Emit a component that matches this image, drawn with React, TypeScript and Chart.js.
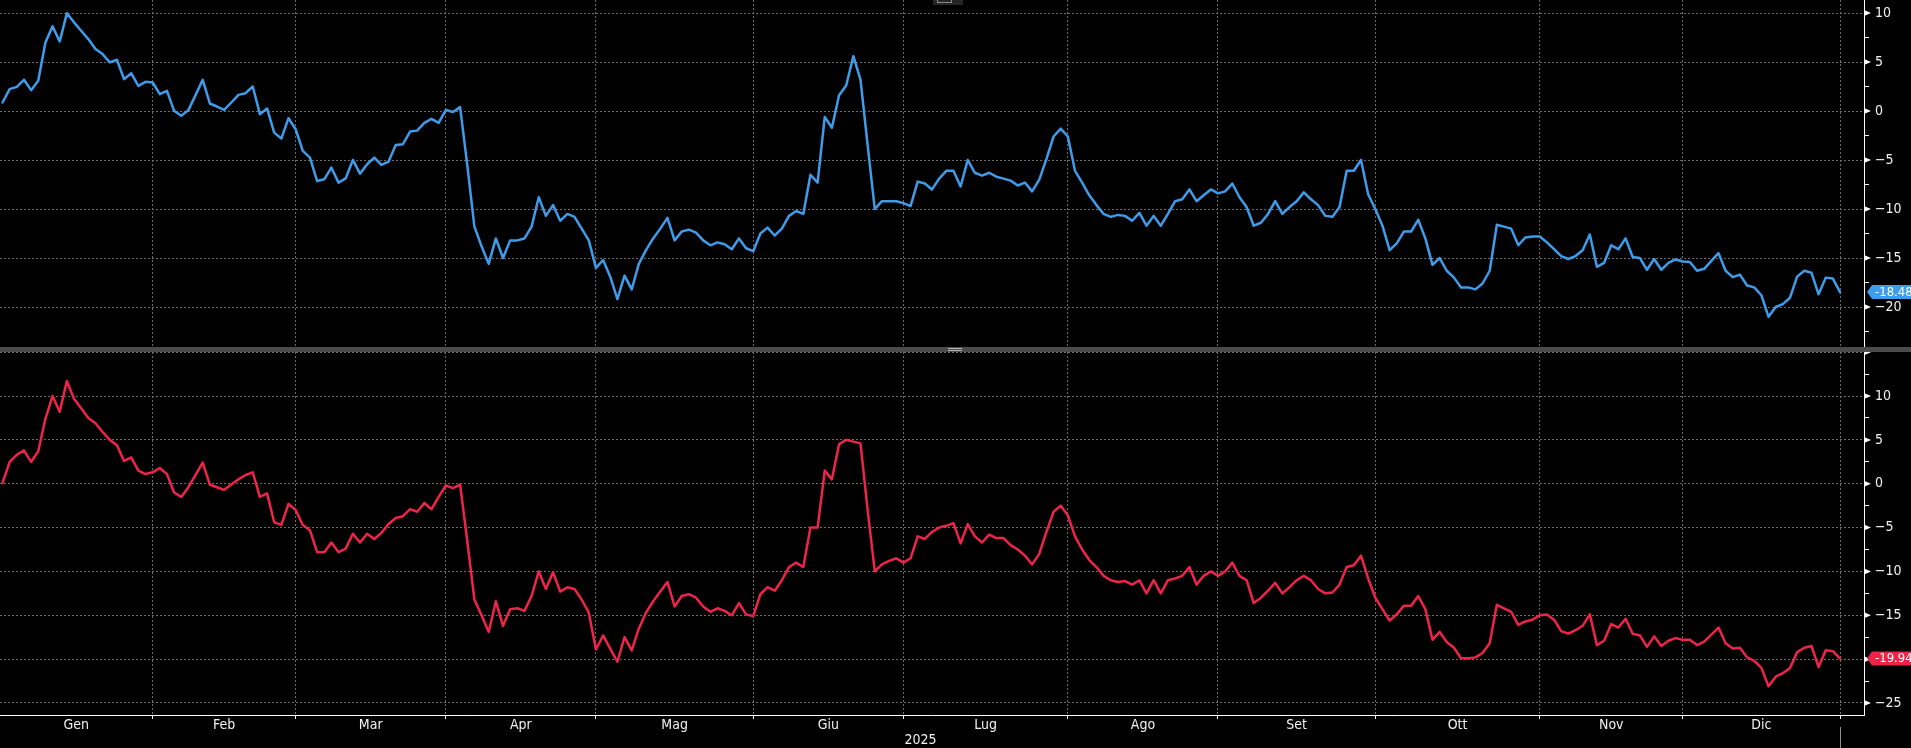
import React, { useEffect, useRef } from 'react';
import { Chart, registerables } from 'chart.js';

Chart.register(...registerables);

// ---------- data ----------
const MONTH_LABELS = ['Gen', 'Feb', 'Mar', 'Apr', 'Mag', 'Giu', 'Lug', 'Ago', 'Set', 'Ott', 'Nov', 'Dic'];
// trading-day index of the last session of each month (grid lines)
const MONTH_END_INDEX = [21, 41, 62, 83, 105, 126, 149, 170, 192, 215, 235, 257];
const YEAR_LABEL = '2025';

const TOP_SERIES = [
  0.87, 2.23, 2.47, 3.19, 2.13, 3.08, 7.0, 8.64, 7.1, 9.97,
  9.05, 8.19, 7.34, 6.32, 5.81, 4.96, 5.23, 3.25, 3.87, 2.57,
  2.98, 2.91, 1.72, 2.06, 0.02, -0.49, 0.09, 1.62, 3.19, 0.77,
  0.46, 0.12, 0.87, 1.65, 1.82, 2.5, -0.32, 0.26, -2.2, -2.81,
  -0.73, -1.86, -4.07, -4.75, -7.14, -6.97, -5.78, -7.31, -6.87, -4.99,
  -6.39, -5.43, -4.75, -5.5, -5.16, -3.46, -3.39, -2.1, -2.0, -1.2,
  -0.8, -1.2, 0.1, -0.1, 0.4, -5.5, -11.8, -13.8, -15.6, -13.0,
  -15.0, -13.2, -13.2, -13.0, -11.8, -8.8, -10.7, -9.6, -11.2, -10.5,
  -10.8, -12.0, -13.2, -16.0, -15.2, -16.9, -19.2, -16.8, -18.2, -15.6,
  -14.2, -13.0, -12.0, -10.9, -13.2, -12.3, -12.1, -12.4, -13.2, -13.7,
  -13.4, -13.6, -14.1, -13.0, -14.0, -14.3, -12.5, -11.9, -12.7, -12.0,
  -10.7, -10.2, -10.5, -6.5, -7.3, -0.6, -1.7, 1.6, 2.6, 5.6,
  3.2, -3.5, -10.0, -9.2, -9.2, -9.2, -9.4, -9.7, -7.2, -7.4,
  -8.0, -6.9, -6.1, -6.1, -7.7, -5.0, -6.3, -6.6, -6.3, -6.7,
  -6.9, -7.1, -7.6, -7.3, -8.2, -7.0, -4.9, -2.6, -1.8, -2.6,
  -6.1, -7.3, -8.6, -9.6, -10.5, -10.8, -10.6, -10.7, -11.2, -10.4,
  -11.7, -10.7, -11.7, -10.5, -9.2, -9.0, -8.0, -9.2, -8.6, -8.0,
  -8.4, -8.2, -7.4, -8.8, -9.8, -11.7, -11.4, -10.5, -9.2, -10.5,
  -9.8, -9.2, -8.3, -9.0, -9.6, -10.7, -10.8, -9.8, -6.1, -6.1,
  -5.0, -8.5, -10.0, -11.7, -14.2, -13.5, -12.3, -12.3, -11.1, -13.0,
  -15.7, -15.0, -16.3, -17.0, -18.0, -18.0, -18.2, -17.6, -16.3, -11.6,
  -11.8, -12.0, -13.7, -12.9, -12.8, -12.8, -13.4, -14.1, -14.8, -15.1,
  -14.8, -14.2, -12.6, -15.9, -15.5, -13.7, -14.1, -13.0, -14.9, -15.0,
  -16.2, -15.1, -16.2, -15.5, -15.15, -15.35, -15.4, -16.3, -16.1, -15.3,
  -14.5, -16.3, -16.95, -16.7, -17.8, -18.0, -18.8, -21.0, -20.0, -19.7,
  -19.05, -16.9, -16.3, -16.5, -18.7, -17.0, -17.1, -18.48,
];

const BOTTOM_SERIES = [
  0.1, 2.5, 3.3, 3.8, 2.5, 3.7, 7.4, 10.0, 8.2, 11.7,
  9.7, 8.6, 7.5, 6.9, 5.9, 5.0, 4.4, 2.6, 3.0, 1.5,
  1.1, 1.3, 1.8, 1.1, -1.0, -1.5, -0.4, 1.0, 2.4, -0.1,
  -0.4, -0.7, -0.1, 0.5, 1.0, 1.3, -1.5, -1.1, -4.4, -4.7,
  -2.3, -3.0, -4.7, -5.3, -7.8, -7.8, -6.7, -7.8, -7.4, -5.7,
  -6.7, -5.7, -6.3, -5.6, -4.6, -3.9, -3.7, -2.9, -3.2, -2.2,
  -2.9, -1.5, -0.2, -0.5, -0.1, -6.5, -13.2, -15.0, -16.9, -13.4,
  -16.2, -14.3, -14.2, -14.5, -12.8, -10.0, -12.0, -10.1, -12.3, -11.8,
  -12.0, -13.2, -14.7, -18.9, -17.3, -18.8, -20.3, -17.5, -19.0, -16.5,
  -14.7, -13.4, -12.3, -11.2, -14.0, -12.8, -12.6, -13.0, -14.0, -14.6,
  -14.2, -14.5, -15.0, -13.6, -14.9, -15.1, -12.6, -11.8, -12.2, -11.0,
  -9.5, -9.0, -9.5, -5.0, -5.0, 1.5, 0.5, 4.5, 5.0, 4.8,
  4.6, -3.0, -10.0, -9.2, -8.8, -8.5, -9.0, -8.5, -6.0, -6.3,
  -5.5, -5.0, -4.8, -4.5, -6.8, -4.6, -6.0, -6.7, -5.8, -6.2,
  -6.2, -7.0, -7.5, -8.2, -9.2, -8.0, -5.5, -3.2, -2.5, -3.6,
  -6.0, -7.5, -8.7, -9.5, -10.5, -11.0, -11.2, -11.1, -11.5, -11.0,
  -12.5, -11.0, -12.5, -11.0, -10.8, -10.5, -9.5, -11.5, -10.5, -10.0,
  -10.5, -10.0, -9.0, -10.5, -11.0, -13.6, -13.0, -12.2, -11.3, -12.5,
  -11.8, -11.0, -10.5, -11.0, -12.0, -12.5, -12.4, -11.5, -9.5, -9.3,
  -8.2, -10.8, -13.0, -14.3, -15.6, -14.9, -13.9, -13.9, -12.8, -14.3,
  -17.8, -16.9, -18.05, -18.7, -19.9, -19.9, -19.8, -19.3, -18.2, -13.8,
  -14.2, -14.6, -16.1, -15.7, -15.5, -15.0, -14.9, -15.5, -16.8, -17.1,
  -16.7, -16.2, -14.9, -18.4, -17.9, -16.0, -16.4, -15.4, -17.1, -17.3,
  -18.6, -17.4, -18.5, -17.9, -17.6, -17.8, -17.8, -18.4, -18.0, -17.2,
  -16.4, -18.2, -18.8, -18.7, -19.8, -20.2, -21.0, -23.1, -22.0, -21.6,
  -21.0, -19.2, -18.7, -18.5, -20.9, -19.0, -19.1, -19.94,
];

const TOP_TICKS = [10, 7.5, 5, 2.5, 0, -2.5, -5, -7.5, -10, -12.5, -15, -17.5, -20, -22.5];
const BOTTOM_TICKS = [15, 12.5, 10, 7.5, 5, 2.5, 0, -2.5, -5, -7.5, -10, -12.5, -15, -17.5, -20, -22.5, -25];

// ---------- style ----------
const BLUE = '#3f9cea';
const RED = '#ee2449';
const GRID = '#6c6c6c';
const TEXT = '#f2f2f2';
const FONT = "'Liberation Sans Narrow', 'Arial Narrow', 'DejaVu Sans Condensed', 'Liberation Sans', sans-serif";
const X_MIN = -0.35;
const X_MAX = 260.35;
const AXIS_W = 47;

Chart.defaults.font.family = FONT;

const isMajor = (v: number) => Math.abs(v % 5) < 1e-6;
const monthMids = MONTH_END_INDEX.map((e, i) => ((i === 0 ? X_MIN : MONTH_END_INDEX[i - 1]) + e) / 2);
const isEnd = (v: number) => MONTH_END_INDEX.some((e) => Math.abs(e - v) < 1e-6);
const fmt = (s: string) => s.replace('-', '\u2212');

function makeAxisPlugin(color: string, series: number[], extra?: (chart: any) => void) {
  return {
    id: 'axisDecor',
    afterDraw(chart: any) {
      const ctx = chart.ctx;
      const y = chart.scales.y;
      const ax = chart.chartArea.right;
      ctx.save();
      // major tick triangles
      ctx.fillStyle = '#ffffff';
      y.ticks.forEach((t: any) => {
        if (!isMajor(t.value)) return;
        const py = y.getPixelForValue(t.value);
        ctx.beginPath();
        ctx.moveTo(ax, py - 3);
        ctx.lineTo(ax + 7, py);
        ctx.lineTo(ax, py + 3);
        ctx.closePath();
        ctx.fill();
      });
      // last value tag
      const last = series[series.length - 1];
      const py = y.getPixelForValue(last);
      const w = chart.width;
      ctx.fillStyle = color;
      ctx.beginPath();
      ctx.moveTo(ax + 3, py);
      ctx.lineTo(ax + 8, py - 7);
      ctx.lineTo(w, py - 7);
      ctx.lineTo(w, py + 7);
      ctx.lineTo(ax + 8, py + 7);
      ctx.closePath();
      ctx.fill();
      ctx.fillStyle = '#ffffff';
      ctx.font = `13px ${FONT}`;
      ctx.textAlign = 'left';
      ctx.textBaseline = 'middle';
      ctx.fillText(last.toFixed(2), ax + 11, py + 0.5);
      if (extra) extra(chart);
      ctx.restore();
    },
  };
}

function yScale(ticks: number[], min: number, max: number, hideTop: boolean) {
  return {
    position: 'right',
    min,
    max,
    afterBuildTicks: (s: any) => {
      s.ticks = ticks.map((v) => ({ value: v }));
    },
    ticks: {
      autoSkip: false,
      color: TEXT,
      font: { size: 14, family: FONT },
      padding: 6,
      callback: (v: number) => (isMajor(v) && !(hideTop && v === ticks[0]) ? fmt(String(v)) : ''),
    },
    grid: {
      color: (c: any) => (c.tick && isMajor(c.tick.value) ? GRID : 'rgba(0,0,0,0)'),
      lineWidth: 1,
      tickLength: 5,
      tickColor: (c: any) => (c.tick && isMajor(c.tick.value) ? 'rgba(0,0,0,0)' : '#ffffff'),
      tickWidth: 1,
    },
    border: { display: true, color: '#ffffff', width: 1, dash: [2, 2] },
    afterFit: (s: any) => {
      s.width = AXIS_W;
      s.paddingTop = 0;
      s.paddingBottom = 0;
    },
  };
}

export default function App() {
  const topRef = useRef<HTMLCanvasElement>(null);
  const botRef = useRef<HTMLCanvasElement>(null);

  useEffect(() => {
    document.body.style.margin = '0';
    document.body.style.background = '#000';

    const common = {
      animation: false,
      responsive: false,
      maintainAspectRatio: false,
      devicePixelRatio: 1,
      layout: { padding: 0 },
      events: [],
      plugins: { legend: { display: false }, tooltip: { enabled: false } },
      elements: { point: { radius: 0 }, line: { tension: 0 } },
    };

    const top = new Chart(topRef.current as HTMLCanvasElement, {
      type: 'line',
      data: {
        datasets: [
          {
            data: TOP_SERIES.map((v, i) => ({ x: i, y: v })),
            borderColor: BLUE,
            borderWidth: 2.5,
            borderJoinStyle: 'round',
            borderCapStyle: 'round',
            pointRadius: 0,
          },
        ],
      },
      options: {
        ...common,
        scales: {
          x: {
            type: 'linear',
            min: X_MIN,
            max: X_MAX,
            afterBuildTicks: (s: any) => {
              s.ticks = MONTH_END_INDEX.map((v) => ({ value: v }));
            },
            ticks: { display: false, autoSkip: false },
            grid: { color: GRID, drawTicks: false, lineWidth: 1 },
            border: { display: false, dash: [2, 2] },
            afterFit: (s: any) => {
              s.height = 0;
              s.paddingLeft = 0;
              s.paddingRight = 0;
            },
          },
          y: yScale(TOP_TICKS, -24.08, 11.33, false),
        },
      } as any,
      plugins: [makeAxisPlugin(BLUE, TOP_SERIES)],
    } as any);

    const bottom = new Chart(botRef.current as HTMLCanvasElement, {
      type: 'line',
      data: {
        datasets: [
          {
            data: BOTTOM_SERIES.map((v, i) => ({ x: i, y: v })),
            borderColor: RED,
            borderWidth: 2.5,
            borderJoinStyle: 'round',
            borderCapStyle: 'round',
            pointRadius: 0,
          },
        ],
      },
      options: {
        ...common,
        scales: {
          x: {
            type: 'linear',
            min: X_MIN,
            max: X_MAX,
            afterBuildTicks: (s: any) => {
              s.ticks = [...MONTH_END_INDEX, ...monthMids].sort((a, b) => a - b).map((v) => ({ value: v }));
            },
            ticks: {
              autoSkip: false,
              maxRotation: 0,
              minRotation: 0,
              color: TEXT,
              font: { size: 14, family: FONT, lineHeight: 1 },
              padding: -1,
              callback: (v: number) => {
                const k = monthMids.findIndex((m) => Math.abs(m - v) < 1e-6);
                return k >= 0 ? MONTH_LABELS[k] : '';
              },
            },
            grid: {
              color: (c: any) => (c.tick && isEnd(c.tick.value) ? GRID : 'rgba(0,0,0,0)'),
              lineWidth: 1,
              tickLength: 4,
              tickColor: (c: any) => (c.tick && isEnd(c.tick.value) ? '#ffffff' : 'rgba(0,0,0,0)'),
            },
            border: { display: true, color: '#ffffff', width: 1, dash: [2, 2] },
            afterFit: (s: any) => {
              s.height = 33;
              s.paddingLeft = 0;
              s.paddingRight = 0;
            },
          },
          y: yScale(BOTTOM_TICKS, -26.37, 15.02, true),
        },
      } as any,
      plugins: [
        makeAxisPlugin(RED, BOTTOM_SERIES, (chart: any) => {
          const ctx = chart.ctx;
          const xs = chart.scales.x;
          const base = chart.chartArea.bottom;
          // year label
          ctx.fillStyle = TEXT;
          ctx.font = `14px ${FONT}`;
          ctx.textAlign = 'left';
          ctx.textBaseline = 'middle';
          ctx.fillText(YEAR_LABEL, xs.getPixelForValue(MONTH_END_INDEX[5]) + 1, base + 25);
          // current-date marker below the axis
          const mx = Math.round(xs.getPixelForValue(MONTH_END_INDEX[11])) + 0.5;
          ctx.strokeStyle = '#8c8c8c';
          ctx.lineWidth = 1;
          ctx.beginPath();
          ctx.moveTo(mx, base + 12);
          ctx.lineTo(mx, chart.height);
          ctx.stroke();
        }),
      ],
    } as any);

    return () => {
      top.destroy();
      bottom.destroy();
    };
  }, []);

  return (
    <div style={{ position: 'relative', width: 1911, height: 748, background: '#000', overflow: 'hidden' }}>
      <canvas ref={topRef} width={1911} height={347} style={{ position: 'absolute', left: 0, top: 0, width: 1911, height: 347 }} />
      <div style={{ position: 'absolute', left: 933, top: 0, width: 30, height: 5, background: '#262626' }} />
      <div style={{ position: 'absolute', left: 937, top: 0, width: 13, height: 2, borderBottom: '1px solid #8a8a8a', borderLeft: '1px solid #8a8a8a', borderRight: '1px solid #8a8a8a' }} />
      <div style={{ position: 'absolute', left: 0, top: 347, width: 1911, height: 5, background: '#4b4b4b' }} />
      <div style={{ position: 'absolute', left: 948, top: 348, width: 14, height: 1, background: '#b5b5b5' }} />
      <div style={{ position: 'absolute', left: 948, top: 350, width: 14, height: 1, background: '#b5b5b5' }} />
      <canvas ref={botRef} width={1911} height={396} style={{ position: 'absolute', left: 0, top: 352, width: 1911, height: 396 }} />
    </div>
  );
}
